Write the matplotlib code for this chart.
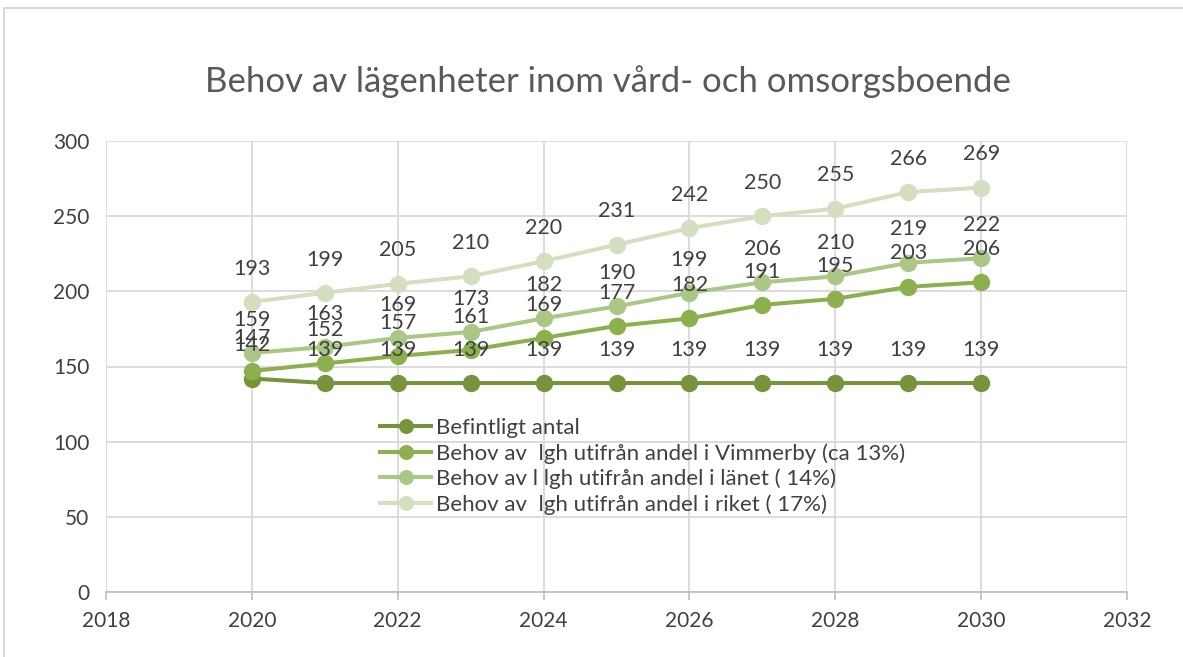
import matplotlib
matplotlib.use("Agg")
import matplotlib.pyplot as plt
from matplotlib.patches import Rectangle

years = [2020, 2021, 2022, 2023, 2024, 2025, 2026, 2027, 2028, 2029, 2030]
befintligt = [142, 139, 139, 139, 139, 139, 139, 139, 139, 139, 139]
vimmerby = [147, 152, 157, 161, 169, 177, 182, 191, 195, 203, 206]
lanet = [159, 163, 169, 173, 182, 190, 199, 206, 210, 219, 222]
riket = [193, 199, 205, 210, 220, 231, 242, 250, 255, 266, 269]
labels = ["Befintligt antal",
          "Behov av  lgh utifrån andel i Vimmerby (ca 13%)",
          "Behov av l lgh utifrån andel i länet ( 14%)",
          "Behov av  lgh utifrån andel i riket ( 17%)"]
colors = ["#77933c", "#8db04f", "#abc785", "#d3dfbf"]
series = [befintligt, vimmerby, lanet, riket]
xticks = list(range(2018, 2033, 2))
yticks = list(range(0, 301, 50))

plt.rcParams['font.family'] = ['Lato', 'DejaVu Sans']
fig = plt.figure(figsize=(11.83, 6.57), dpi=100)
fig.patches.append(Rectangle((4/1183, -0.1), 1.2, (657-8)/657 + 0.1, transform=fig.transFigure,
                             fill=False, edgecolor="#d0d0d0", linewidth=1.2))
ax = fig.add_axes([106/1183, 1-592/657, (1127-106)/1183, (592-141)/657])

for s, c, lab in zip(series, colors, labels):
    ax.plot(years, s, color=c, linewidth=2.9, marker='o', markersize=11.5, label=lab, zorder=3)
for s in series:
    for x, v in zip(years, s):
        ax.annotate(str(v), (x, v), xytext=(0, 24), textcoords='offset points',
                    ha='center', va='center', fontsize=15.5, color='#404040', zorder=4)

ax.set_xlim(2018, 2032)
ax.set_ylim(0, 300)
ax.set_xticks(xticks)
ax.set_yticks(yticks)
ax.grid(True, color='#d9d9d9', linewidth=1.3, zorder=0)
ax.set_axisbelow(True)
for sp in ['top', 'right', 'left']:
    ax.spines[sp].set_visible(False)
ax.spines['bottom'].set_color('#bfbfbf')
ax.spines['bottom'].set_linewidth(1.3)
ax.tick_params(axis='x', colors='#bfbfbf', labelcolor='#404040', labelsize=15, length=6, width=1.2, pad=8)
ax.tick_params(axis='y', length=0, labelcolor='#404040', labelsize=15, pad=12)

fig.text(608/1183, 1-82/657, "Behov av lägenheter inom vård- och omsorgsboende",
         ha='center', va='center', fontsize=25, color='#595959')

leg = ax.legend(loc='upper left', bbox_to_anchor=(0.26, 0.405), frameon=False,
                fontsize=16, labelcolor='#404040', handlelength=2.3, handletextpad=0.2,
                labelspacing=0.22, borderaxespad=0, markerscale=0.85)

fig.savefig("out.png", dpi=100)
